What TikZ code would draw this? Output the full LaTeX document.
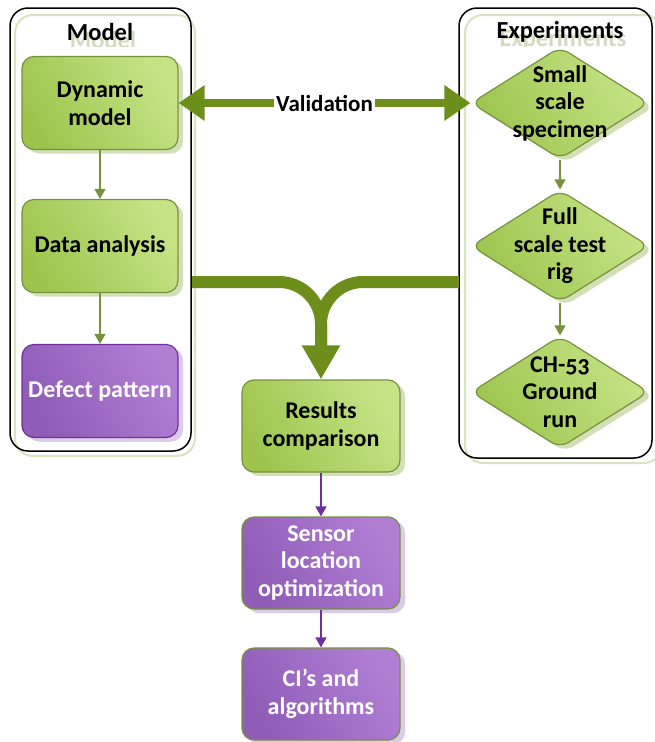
\documentclass[tikz,border=0pt]{standalone}
\usepackage{fontspec}
\setmainfont{Carlito}
\usetikzlibrary{shapes.geometric,arrows.meta,shadows}
\definecolor{gfillA}{HTML}{9DC54E}
\definecolor{gfillB}{HTML}{C6E386}
\definecolor{gborder}{HTML}{76923C}
\definecolor{gshadow}{HTML}{D3DFB6}
\definecolor{pfillA}{HTML}{8F5CB6}
\definecolor{pfillB}{HTML}{B07FD4}
\definecolor{pborder}{HTML}{7030A0}
\definecolor{pshadow}{HTML}{DACBE8}
\definecolor{thick}{HTML}{6E8E1C}
\definecolor{ghost}{HTML}{D2DBBE}
\definecolor{frameg}{HTML}{D7E4BD}
\tikzset{
  txt/.style={font=\fontsize{24}{27.5}\selectfont\bfseries, align=center},
  gbox/.style={txt, draw=gborder, line width=1.2pt, rounded corners=12pt,
    minimum width=156pt, minimum height=93pt, inner sep=0pt,
    left color=gfillA, right color=gfillB, shading angle=120,
    drop shadow={shadow xshift=5pt, shadow yshift=-4pt, fill=gshadow, opacity=1}},
  pbox/.style={gbox, text=white, left color=pfillA, right color=pfillB, shading angle=120,
    drop shadow={shadow xshift=5pt, shadow yshift=-4pt, fill=pshadow, opacity=1}},
  dia/.style={diamond, draw=gborder, line width=1.2pt, rounded corners=10pt,
    minimum width=178pt, minimum height=112pt, inner sep=0pt,
    left color=gfillA, right color=gfillB, shading angle=120,
    drop shadow={shadow xshift=5pt, shadow yshift=-4pt, fill=gshadow, opacity=1}},
  dtext/.style={txt, inner sep=0pt},
  garrow/.style={draw=gborder, line width=1.3pt, -{Triangle[length=10pt 0, width=11pt 0]}},
  parrow/.style={draw=pborder, line width=1.3pt, -{Triangle[length=10pt 0, width=11pt 0]}},
  blackframe/.style={draw=black, line width=1.5pt, rounded corners=18pt},
  greenframe/.style={draw=frameg, line width=2pt, rounded corners=18pt},
  head/.style={font=\fontsize{24.5}{28}\selectfont\bfseries},
}
\begin{document}
\begin{tikzpicture}[x=1pt,y=-1pt]
\useasboundingbox (0,0) rectangle (655,742);
% frames
\draw[greenframe] (15,15) rectangle (195,456);
\draw[blackframe] (10,8) rectangle (191,451);
\draw[greenframe] (465,15) rectangle (662,463);
\draw[blackframe] (459,8) rectangle (652,458);
% headers (ghost copies clipped at their lower edge)
\begin{scope}
\clip (0,0) rectangle (655,46);
\node[head, text=ghost] (mghost) at (103,40) {Model};
\node[head, text=ghost] (eghost) at (563,40) {Experiments};
\end{scope}
\node[head] (mhead) at (100,32) {Model};
\node[head] (ehead) at (560,32) {Experiments};
% model column
\node[gbox] (dm) at (100,103) {Dynamic\\model};
\node[gbox] (da) at (100,246) {Data analysis};
\node[pbox, draw=pborder] (dp) at (100,391) {Defect pattern};
% experiments column
\node[dia] (d1) at (560,103) {};
\node[dtext] (t1) at (d1.center) {Small\\scale\\specimen};
\node[dia] (d2) at (560,246) {};
\node[dtext] (t2) at (d2.center) {Full\\scale test\\rig};
\node[dia] (d3) at (560,392) {};
\node[dtext] (t3) at (d3.center) {CH-{\addfontfeatures{Numbers=OldStyle}53}\\Ground\\run};
% centre column
\node[gbox, minimum width=158pt, minimum height=92pt] (rc) at (321,426) {Results\\comparison};
\node[pbox, minimum width=158pt, minimum height=92pt] (sl) at (321,563) {Sensor\\location\\optimization};
\node[pbox, minimum width=158pt, minimum height=92pt] (ci) at (321,694) {CI’s and\\algorithms};
% thin arrows
\draw[garrow] (dm) -- (da);
\draw[garrow] (da) -- (dp);
\draw[garrow] (d1) -- (d2);
\draw[garrow] (d2) -- (d3);
\draw[parrow] (rc) -- (sl);
\draw[parrow] (sl) -- (ci);
% validation arrow
\draw[draw=thick, line width=8pt, {Triangle[length=26pt 0, width=34pt 0]}-{Triangle[length=26pt 0, width=34pt 0]}] (dm.east) -- (d1.west)
  node[midway, fill=white, inner sep=2pt, font=\fontsize{23}{26}\selectfont\bfseries] (val) {Validation};
% merge arrow
\coordinate (mL) at (192,282);
\coordinate (mR) at (459,282);
\draw[draw=thick, line width=12pt, rounded corners=42pt, shorten >=30pt] (mR) -| (rc.north);
\draw[draw=thick, line width=12pt, rounded corners=42pt, -{Triangle[length=34pt 0, width=36pt 0]}] (mL) -| (rc.north);
\end{tikzpicture}
\end{document}
